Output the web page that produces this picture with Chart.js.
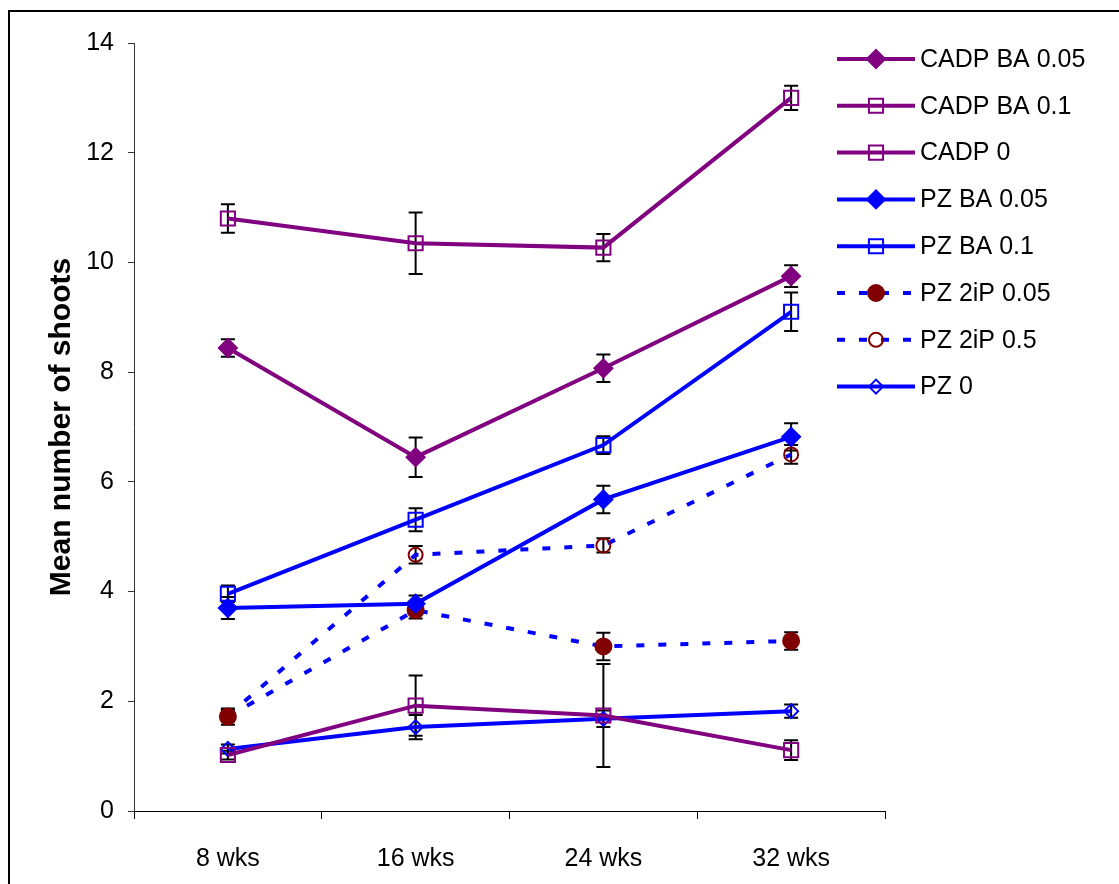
<!DOCTYPE html>
<html>
<head>
<meta charset="utf-8">
<script src="https://cdn.jsdelivr.net/npm/chart.js@4/dist/chart.umd.min.js"></script>
<style>
  body { margin: 0; background: #fff; }
  canvas { display: block; }
</style>
</head>
<body>
<canvas id="chart" width="1119" height="884"></canvas>
<script>
const weeks = ['8 wks', '16 wks', '24 wks', '32 wks'];

// means
const cadpBa005 = [8.44, 6.45, 8.07, 9.75];
const cadpBa01 = [10.8, 10.35, 10.27, 13.0];
const cadp0 = [1.02, 1.92, 1.74, 1.11];
const pzBa005 = [3.7, 3.78, 5.68, 6.82];
const pzBa01 = [3.96, 5.31, 6.67, 9.1];
const pz2iP005 = [1.72, 3.66, 3.0, 3.1];
const pz2iP05 = [1.74, 4.67, 4.84, 6.5];
const pz0 = [1.13, 1.53, 1.68, 1.82];

// error bar half-lengths
const cadpBa005Err = [0.16, 0.36, 0.25, 0.2];
const cadpBa01Err = [0.26, 0.56, 0.25, 0.22];
const cadp0Err = [0.08, 0.55, 0.94, 0.18];
const pzBa005Err = [0.2, 0.15, 0.25, 0.25];
const pzBa01Err = [0.15, 0.21, 0.16, 0.35];
const pz2iP005Err = [0.15, 0.15, 0.25, 0.16];
const pz2iP05Err = [0.1, 0.16, 0.13, 0.17];
const pz0Err = [0.08, 0.22, 0.15, 0.12];

const PURPLE = '#800080';
const BLUE = '#0000ff';
const MAROON = '#800000';
const DASH = [8, 14];
const FONT = '"Liberation Sans", Arial, sans-serif';

function series(label, data, errors, color, style, radius, fill, markerColor, dashed) {
  return {
    label, data, errors,
    borderColor: color,
    borderWidth: 4,
    borderDash: dashed ? DASH : [],
    borderCapStyle: 'butt',
    tension: 0,
    pointStyle: style,
    pointRadius: radius,
    pointHoverRadius: radius,
    pointBorderWidth: 2,
    pointBorderColor: markerColor || color,
    pointBackgroundColor: fill ? (markerColor || color) : 'rgba(0,0,0,0)'
  };
}

const datasets = [
  series('CADP BA 0.05', cadpBa005, cadpBa005Err, PURPLE, 'rectRot', 9, true),
  series('CADP BA 0.1', cadpBa01, cadpBa01Err, PURPLE, 'rect', 10, false),
  series('CADP 0', cadp0, cadp0Err, PURPLE, 'rect', 10, false),
  series('PZ BA 0.05', pzBa005, pzBa005Err, BLUE, 'rectRot', 9, true),
  series('PZ BA 0.1', pzBa01, pzBa01Err, BLUE, 'rect', 10, false),
  series('PZ 2iP 0.05', pz2iP005, pz2iP005Err, BLUE, 'circle', 8, true, MAROON, true),
  series('PZ 2iP 0.5', pz2iP05, pz2iP05Err, BLUE, 'circle', 7, false, MAROON, true),
  series('PZ 0', pz0, pz0Err, BLUE, 'rectRot', 7, false)
];

// black error bars with caps, drawn under the lines
const errorBars = {
  id: 'errorBars',
  beforeDatasetsDraw(chart) {
    const { ctx, scales: { x, y } } = chart;
    ctx.save();
    ctx.strokeStyle = '#000';
    ctx.lineWidth = 2;
    chart.data.datasets.forEach(ds => {
      ds.errors.forEach((e, i) => {
        const px = x.getPixelForValue(i);
        const top = y.getPixelForValue(ds.data[i] + e);
        const bot = y.getPixelForValue(ds.data[i] - e);
        ctx.beginPath();
        ctx.moveTo(px, top); ctx.lineTo(px, bot);
        ctx.moveTo(px - 7, top); ctx.lineTo(px + 7, top);
        ctx.moveTo(px - 7, bot); ctx.lineTo(px + 7, bot);
        ctx.stroke();
      });
    });
    ctx.restore();
  }
};

// legend on the right with line sample + marker
const sideLegend = {
  id: 'sideLegend',
  afterDraw(chart) {
    const ctx = chart.ctx;
    ctx.save();
    chart.data.datasets.forEach((ds, i) => {
      const y = 59 + i * 46.8;
      ctx.beginPath();
      ctx.strokeStyle = ds.borderColor;
      ctx.lineWidth = 4;
      ctx.setLineDash(ds.borderDash);
      ctx.lineCap = 'butt';
      ctx.moveTo(837, y);
      ctx.lineTo(915, y);
      ctx.stroke();
      ctx.setLineDash([]);
      ctx.lineWidth = ds.pointBorderWidth;
      ctx.strokeStyle = ds.pointBorderColor;
      ctx.fillStyle = ds.pointBackgroundColor;
      Chart.helpers.drawPoint(ctx, { pointStyle: ds.pointStyle, radius: ds.pointRadius, rotation: 0, borderWidth: 2 }, 876, y);
      ctx.fillStyle = '#000';
      ctx.font = '25px ' + FONT;
      ctx.textBaseline = 'middle';
      ctx.textAlign = 'left';
      ctx.fillText(ds.label, 920, y + 1);
    });
    ctx.restore();
  }
};

// outer frame of the picture
const frame = {
  id: 'frame',
  afterDraw(chart) {
    const ctx = chart.ctx;
    ctx.save();
    ctx.strokeStyle = '#000';
    ctx.lineWidth = 2;
    ctx.strokeRect(9, 11, 1300, 1000);
    ctx.restore();
  }
};

const ctx = document.getElementById('chart').getContext('2d');

new Chart(ctx, {
  type: 'line',
  data: { labels: weeks, datasets },
  plugins: [errorBars, sideLegend, frame],
  options: {
    responsive: false,
    animation: false,
    layout: { padding: { left: 0, right: 234, top: 43, bottom: 0 } },
    plugins: {
      legend: { display: false },
      tooltip: { enabled: false }
    },
    scales: {
      x: {
        offset: true,
        grid: { offset: true, drawOnChartArea: false, tickLength: 8, color: '#000', lineWidth: 1 },
        border: { color: '#000', width: 1 },
        ticks: { color: '#000', padding: 25, font: { size: 25, family: FONT } },
        afterFit(scale) { scale.height = 73; }
      },
      y: {
        min: 0,
        max: 14,
        ticks: { stepSize: 2, color: '#000', padding: 14, font: { size: 25, family: FONT } },
        grid: { drawOnChartArea: false, tickLength: 6, color: '#333' },
        border: { color: '#333', width: 1 },
        title: {
          display: true,
          text: 'Mean number of shoots',
          color: '#000',
          padding: { top: 44, bottom: 0 },
          font: { size: 30, weight: 'bold', family: FONT }
        },
        afterFit(scale) { scale.width = 134; }
      }
    }
  }
});
</script>
</body>
</html>
